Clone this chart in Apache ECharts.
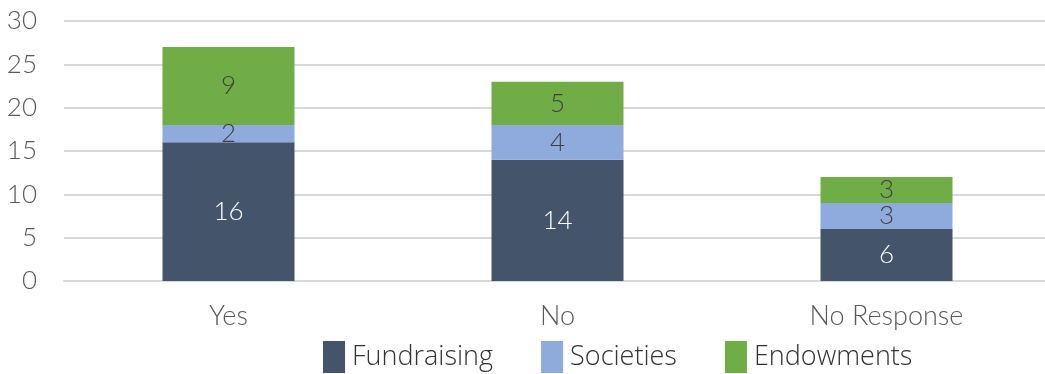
<!DOCTYPE html>
<html><head><meta charset="utf-8">
<script src="https://cdn.jsdelivr.net/npm/echarts@6/dist/echarts.min.js"></script>
<style>html,body{margin:0;padding:0;background:#fff;overflow:hidden}#c{width:1052px;height:374px}</style>
</head><body><div id="c"></div>
<script>
const categories = ['Yes', 'No', 'No Response'];
const fundraising = [16, 14, 6];
const societies = [2, 4, 3];
const endowments = [9, 5, 3];
const seriesNames = ['Fundraising', 'Societies', 'Endowments'];

const font = 'Lato';
const chart = echarts.init(document.getElementById('c'));
function lbl(color) {
  return { show: true, position: 'inside', color: color, fontFamily: font, fontWeight: 300, fontSize: 26 };
}
chart.setOption({
  animation: false,
  grid: { left: 64, width: 987, top: 21, height: 260 },
  legend: {
    data: seriesNames, left: 318, top: 336, itemWidth: 22, itemHeight: 32, itemGap: 48,
    icon: 'rect',
    textStyle: { fontFamily: 'Open Sans', fontWeight: 300, fontSize: 27, color: '#333333', padding: [0, 0, 0, 2] }
  },
  xAxis: {
    type: 'category', data: categories,
    axisLine: { lineStyle: { color: '#d9d9d9', width: 2 } }, axisTick: { show: false },
    axisLabel: { fontFamily: font, fontWeight: 300, fontSize: 27, color: '#595959', margin: 22 }
  },
  yAxis: {
    type: 'value', min: 0, max: 30, interval: 5,
    splitLine: { lineStyle: { color: '#d9d9d9', width: 2 } },
    axisLabel: { fontFamily: font, fontWeight: 300, fontSize: 26, color: '#595959', margin: 27 }
  },
  series: [
    { name: seriesNames[0], type: 'bar', stack: 's', data: fundraising, barWidth: 132, itemStyle: { color: '#44546A' }, label: lbl('#ffffff') },
    { name: seriesNames[1], type: 'bar', stack: 's', data: societies, itemStyle: { color: '#8FAADC' }, label: lbl('#404040') },
    { name: seriesNames[2], type: 'bar', stack: 's', data: endowments, itemStyle: { color: '#70AD47' }, label: lbl('#404040') }
  ]
});
</script></body></html>
